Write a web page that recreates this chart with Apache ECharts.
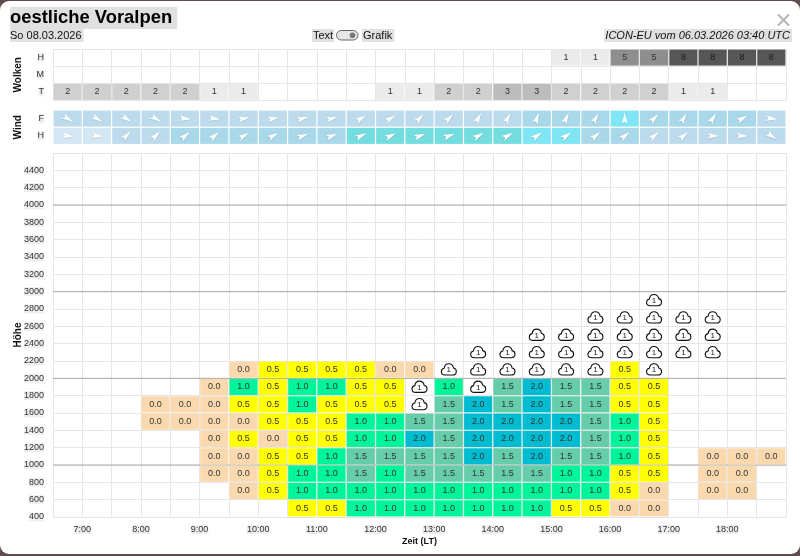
<!DOCTYPE html>
<html>
<head>
<meta charset="utf-8">
<title>oestliche Voralpen</title>
<script src="https://cdn.jsdelivr.net/npm/echarts@6/dist/echarts.min.js"></script>
<style>
  html, body { margin: 0; padding: 0; background: #5e4d4c; }
  #wrap { position: relative; width: 800px; height: 556px; overflow: hidden; }
  #modal { position: absolute; left: 0; top: 1px; width: 800px; height: 553px; background: #fff; border-radius: 9px; }
  #chart { position: absolute; left: 0; top: 0; width: 800px; height: 556px; }
</style>
</head>
<body>
<div id="wrap"><div id="modal"></div><div id="chart"></div></div>
<script>
const FONT = '"Liberation Sans", Arial, sans-serif'

// half hour slots, each value is the start of the slot
const slots = [6.5, 7, 7.5, 8, 8.5, 9, 9.5, 10, 10.5, 11, 11.5, 12, 12.5, 13, 13.5, 14, 14.5, 15, 15.5, 16, 16.5, 17, 17.5, 18, 18.5]

const cloudRows = ['T', 'M', 'H']
const cloudsT = [2, 2, 2, 2, 2, 1, 1, 0, 0, 0, 0, 1, 1, 2, 2, 3, 3, 2, 2, 2, 2, 1, 1, 0, 0]
const cloudsM = [0, 0, 0, 0, 0, 0, 0, 0, 0, 0, 0, 0, 0, 0, 0, 0, 0, 0, 0, 0, 0, 0, 0, 0, 0]
const cloudsH = [0, 0, 0, 0, 0, 0, 0, 0, 0, 0, 0, 0, 0, 0, 0, 0, 0, 1, 1, 5, 5, 8, 8, 8, 8]

const windRows = ['H', 'F']
const windDirF = [120, 120, 120, 120, 95, 95, 80, 80, 75, 75, 60, 60, 45, 45, 30, 30, 20, 25, 30, 0, 45, 30, 35, 60, 95]
const windDirH = [95, 95, 45, 45, 50, 50, 60, 60, 70, 70, 65, 65, 70, 70, 60, 60, 55, 55, 50, 50, 50, 50, 90, 90, 125]
const windLevelF = [2, 2, 2, 2, 2, 2, 2, 2, 2, 2, 2, 2, 2, 2, 2, 2, 3, 3, 3, 5, 3, 3, 3, 3, 2]
const windLevelH = [1, 1, 2, 2, 3, 3, 3, 3, 3, 3, 4, 4, 4, 4, 4, 4, 5, 5, 3, 3, 2, 2, 2, 2, 2]

// climb per height band, _ = nothing, C = cloud base marker
const _ = null
const C = -1
const bands = [400, 600, 800, 1000, 1200, 1400, 1600, 1800, 2000, 2200, 2400, 2600, 2800]
const climb400 = [_, _, _, _, _, _, _, _, 0.5, 0.5, 1, 1, 1, 1, 1, 1, 1, 0.5, 0.5, 0, 0, _, _, _, _]
const climb600 = [_, _, _, _, _, _, 0, 0.5, 1, 1, 1, 1, 1, 1, 1, 1, 1, 1, 1, 0.5, 0, _, 0, 0, _]
const climb800 = [_, _, _, _, _, 0, 0, 0.5, 1, 1, 1.5, 1, 1.5, 1.5, 1.5, 1.5, 1.5, 1, 1, 0.5, 0.5, _, 0, 0, _]
const climb1000 = [_, _, _, _, _, 0, 0, 0.5, 0.5, 1, 1.5, 1.5, 1.5, 1.5, 2, 1.5, 2, 1.5, 1.5, 1, 0.5, _, 0, 0, 0]
const climb1200 = [_, _, _, _, _, 0, 0.5, 0, 0.5, 0.5, 1, 1, 2, 1.5, 2, 2, 2, 2, 1.5, 1, 0.5, _, _, _, _]
const climb1400 = [_, _, _, 0, 0, 0, 0, 0.5, 0.5, 0.5, 1, 1, 1.5, 1.5, 2, 2, 2, 2, 1.5, 1, 0.5, _, _, _, _]
const climb1600 = [_, _, _, 0, 0, 0, 0.5, 0.5, 1, 0.5, 0.5, 0.5, C, 1.5, 2, 1.5, 2, 1.5, 1.5, 0.5, 0.5, _, _, _, _]
const climb1800 = [_, _, _, _, _, 0, 1, 0.5, 1, 1, 0.5, 0.5, C, 1, C, 1.5, 2, 1.5, 1.5, 0.5, 0.5, _, _, _, _]
const climb2000 = [_, _, _, _, _, _, 0, 0.5, 0.5, 0.5, 0.5, 0, 0, C, C, C, C, C, C, 0.5, C, _, _, _, _]
const climb2200 = [_, _, _, _, _, _, _, _, _, _, _, _, _, _, C, C, C, C, C, C, C, C, C, _, _]
const climb2400 = [_, _, _, _, _, _, _, _, _, _, _, _, _, _, _, _, C, C, C, C, C, C, C, _, _]
const climb2600 = [_, _, _, _, _, _, _, _, _, _, _, _, _, _, _, _, _, _, C, C, C, C, C, _, _]
const climb2800 = [_, _, _, _, _, _, _, _, _, _, _, _, _, _, _, _, _, _, _, _, C, _, _, _, _]
const climbRows = [climb400, climb600, climb800, climb1000, climb1200, climb1400, climb1600, climb1800, climb2000, climb2200, climb2400, climb2600, climb2800]

const majorHeights = [1000, 2000, 3000, 4000]

const SLOT = 0.5
const BAND = 200
const climbColors = { 0: '#fbd9ae', 0.5: '#ffff00', 1: '#00f59b', 1.5: '#66cdaa', 2: '#00bcd0' }
const cloudColors = { 1: '#ebebeb', 2: '#d0d0d0', 3: '#bcbcbc', 5: '#8e8e8e', 8: '#565656' }
const windColors = { 1: '#d3e7f4', 2: '#bcdcee', 3: '#a8d8ea', 4: '#74dde0', 5: '#80e6f5' }

const cloudData = []
;[cloudsT, cloudsM, cloudsH].forEach((row, r) => row.forEach((v, i) => { if (v) cloudData.push([slots[i], r, v]) }))

const windData = []
;[[windDirH, windLevelH], [windDirF, windLevelF]].forEach(([dirs, levels], r) => {
  dirs.forEach((d, i) => windData.push([slots[i], r, d, levels[i]]))
})

const climbData = []
const cloudBaseData = []
climbRows.forEach((row, r) => row.forEach((v, i) => {
  if (v === null) return
  if (v === C) cloudBaseData.push([slots[i], bands[r]])
  else climbData.push([slots[i], bands[r], v])
}))

const bandRect = (api, x, rowTop, rowBottom) => {
  const a = api.coord([x, rowTop])
  const b = api.coord([x + SLOT, rowBottom])
  return { x: a[0] + 0.6, y: a[1] + 0.6, width: b[0] - a[0] - 1.2, height: b[1] - a[1] - 1.2 }
}

const renderCategoryCell = (api, fill, label, textFill) => {
  const x = api.value(0)
  const c = api.coord([x, api.value(1)])
  const h = api.size([0, 1])[1]
  const left = api.coord([x, 0])[0]
  const right = api.coord([x + SLOT, 0])[0]
  const children = [{
    type: 'rect',
    shape: { x: left + 0.6, y: c[1] - h / 2 + 0.6, width: right - left - 1.2, height: h - 1.2 },
    style: { fill }
  }]
  if (label) {
    children.push({
      type: 'text',
      style: { x: (left + right) / 2, y: c[1], text: label, align: 'center', verticalAlign: 'middle', font: '9px ' + FONT, fill: textFill }
    })
  }
  return { type: 'group', children }
}

const renderCloudCell = (params, api) => {
  const v = api.value(2)
  return renderCategoryCell(api, cloudColors[v], String(v), v === 8 ? '#1a1a1a' : '#333')
}

const renderWindCell = (params, api) => {
  const x = api.value(0)
  const c = api.coord([x + SLOT / 2, api.value(1)])
  const cell = renderCategoryCell(api, windColors[api.value(3)])
  cell.children.push({
    type: 'polygon',
    x: c[0],
    y: c[1],
    rotation: -api.value(2) * Math.PI / 180,
    shape: { points: [[0, -6.5], [2.9, 5.2], [0, 2.8], [-2.9, 5.2]] },
    style: { fill: '#fff', shadowBlur: 1, shadowColor: 'rgba(120,120,120,0.5)', shadowOffsetY: 0.4 }
  })
  return cell
}

const renderClimbCell = (params, api) => {
  const x = api.value(0)
  const h = api.value(1)
  const v = api.value(2)
  const rect = bandRect(api, x, h + BAND, h)
  return {
    type: 'group',
    children: [
      { type: 'rect', shape: rect, style: { fill: climbColors[v] } },
      {
        type: 'text',
        style: { x: rect.x + rect.width / 2, y: rect.y + rect.height / 2, text: v.toFixed(1), align: 'center', verticalAlign: 'middle', font: '9px ' + FONT, fill: '#333' }
      }
    ]
  }
}

const CLOUD_PATH = 'M7 20c-3 0-5-2-5-4.6 0-2.3 1.7-4 3.8-4.4C6.2 7.5 8.8 5 12 5s5.6 2.3 6.2 5.6c2.2.4 3.8 2.2 3.8 4.6 0 2.6-2 4.8-4.8 4.8z'

const renderCloudBase = (params, api) => {
  const a = api.coord([api.value(0) + SLOT / 2, api.value(1) + BAND / 2])
  return {
    type: 'group',
    children: [
      { type: 'path', shape: { pathData: CLOUD_PATH, x: a[0] - 7.5, y: a[1] - 6.5, width: 15, height: 12.5 }, style: { fill: '#fff', stroke: '#111', lineWidth: 1.1 } },
      { type: 'text', style: { x: a[0], y: a[1] + 0.5, text: '1', align: 'center', verticalAlign: 'middle', font: '8px ' + FONT, fill: '#222' } }
    ]
  }
}

const renderMajorLine = (params, api) => {
  const h = api.value(0)
  const a = api.coord([slots[0], h])
  const b = api.coord([slots[slots.length - 1] + SLOT, h])
  return { type: 'line', shape: { x1: a[0], y1: a[1], x2: b[0], y2: b[1] }, style: { stroke: '#a9a9a9', lineWidth: 1 } }
}

const gridLine = { show: true, lineStyle: { color: '#e6e6e6', width: 1 } }
const axisNameStyle = { fontFamily: FONT, fontSize: 10, fontWeight: 'bold', color: '#111' }

const timeAxis = (gridIndex, extra) => Object.assign({
  type: 'value',
  gridIndex,
  min: 6.5,
  max: 19,
  interval: SLOT,
  axisLine: { show: false },
  axisTick: { show: false },
  axisLabel: { show: false },
  splitLine: gridLine
}, extra)

const rowAxis = (gridIndex, data, name) => ({
  type: 'category',
  gridIndex,
  data,
  name,
  nameLocation: 'middle',
  nameGap: 30,
  nameRotate: 90,
  nameMoveOverlap: false,
  nameTextStyle: axisNameStyle,
  axisLine: { show: false },
  axisTick: { show: false },
  axisLabel: { fontFamily: FONT, fontSize: 9, color: '#333', backgroundColor: '#eee', margin: 9 },
  splitLine: gridLine
})

const headerText = (x, y, text, font, extra) => ({
  type: 'text',
  x,
  y,
  style: Object.assign({ text, font, fill: '#111', backgroundColor: '#e0e0e0', verticalAlign: 'top' }, extra)
})

const chart = echarts.init(document.getElementById('chart'), null, { renderer: 'canvas' })

chart.setOption({
  animation: false,
  backgroundColor: 'transparent',
  textStyle: { fontFamily: FONT },
  grid: [
    { left: 53, width: 733, top: 49, height: 51.5, outerBoundsMode: 'none' },
    { left: 53, width: 733, top: 110, height: 34.5, outerBoundsMode: 'none' },
    { left: 53, width: 733, top: 153, height: 364, outerBoundsMode: 'none' }
  ],
  xAxis: [
    timeAxis(0),
    timeAxis(1, { splitLine: { show: false } }),
    timeAxis(2, {
      name: 'Zeit (LT)',
      nameLocation: 'middle',
      nameGap: 20,
      nameMoveOverlap: false,
      nameTextStyle: { fontFamily: FONT, fontSize: 9, fontWeight: 'bold', color: '#111' },
      axisLabel: {
        show: true,
        margin: 8,
        fontFamily: FONT,
        fontSize: 9,
        color: '#333',
        backgroundColor: '#eee',
        formatter: (v) => (Number.isInteger(v) && v < 19 ? v + ':00' : '')
      }
    })
  ],
  yAxis: [
    rowAxis(0, cloudRows, 'Wolken'),
    Object.assign(rowAxis(1, windRows, 'Wind'), { splitLine: { show: false } }),
    {
      type: 'value',
      gridIndex: 2,
      min: 400,
      max: 4600,
      interval: BAND,
      name: 'Höhe',
      nameLocation: 'middle',
      nameGap: 30,
      nameRotate: 90,
      nameMoveOverlap: false,
      nameTextStyle: axisNameStyle,
      axisLine: { show: false },
      axisTick: { show: false },
      axisLabel: {
        margin: 9,
        fontFamily: FONT,
        fontSize: 9,
        color: '#333',
        backgroundColor: '#eee',
        formatter: (v) => (v === 4600 ? '' : String(v))
      },
      splitLine: gridLine
    }
  ],
  series: [
    { type: 'custom', xAxisIndex: 0, yAxisIndex: 0, data: cloudData, renderItem: renderCloudCell, silent: true, z: 3 },
    { type: 'custom', xAxisIndex: 1, yAxisIndex: 1, data: windData, renderItem: renderWindCell, silent: true, z: 3 },
    { type: 'custom', xAxisIndex: 2, yAxisIndex: 2, data: majorHeights.map((h) => [h]), renderItem: renderMajorLine, encode: { y: 0 }, silent: true, z: 2 },
    { type: 'custom', xAxisIndex: 2, yAxisIndex: 2, data: climbData, renderItem: renderClimbCell, silent: true, z: 3 },
    { type: 'custom', xAxisIndex: 2, yAxisIndex: 2, data: cloudBaseData, renderItem: renderCloudBase, silent: true, z: 4 }
  ],
  graphic: [
    headerText(10, 7, 'oestliche Voralpen', 'bold 18.4px ' + FONT, { fill: '#000', padding: [2, 5, 2, 0] }),
    headerText(10, 29, 'So 08.03.2026', '11px ' + FONT, { padding: [1, 2, 1, 0] }),
    headerText(312, 29, 'Text', '11px ' + FONT, { padding: [1, 1, 1, 1] }),
    headerText(362, 29, 'Grafik', '11px ' + FONT, { padding: [1, 2, 1, 1] }),
    { type: 'rect', shape: { x: 336.5, y: 30.5, width: 21.5, height: 9.5, r: 4.75 }, style: { fill: '#e6e6e6', stroke: '#666', lineWidth: 1 } },
    { type: 'circle', shape: { cx: 352.5, cy: 35.2, r: 2.8 }, style: { fill: '#777' } },
    headerText(792, 29, 'ICON-EU vom 06.03.2026 03:40 UTC', 'italic 11px ' + FONT, { align: 'right', padding: [1, 2, 1, 1] }),
    { type: 'line', shape: { x1: 778, y1: 14.5, x2: 789, y2: 25.5 }, style: { stroke: '#b4b4b4', lineWidth: 2 } },
    { type: 'line', shape: { x1: 789, y1: 14.5, x2: 778, y2: 25.5 }, style: { stroke: '#b4b4b4', lineWidth: 2 } }
  ]
})
</script>
</body>
</html>
